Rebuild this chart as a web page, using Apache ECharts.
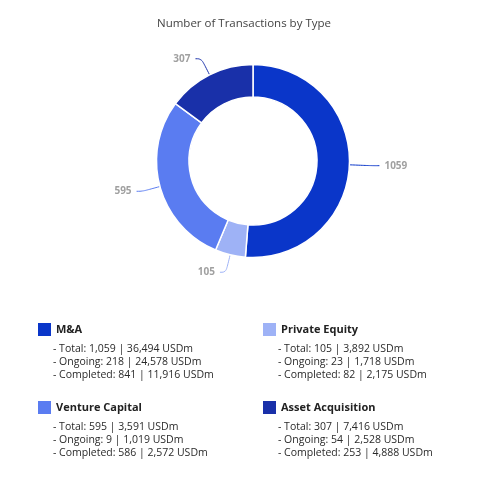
<!DOCTYPE html>
<html><head><meta charset="utf-8">
<script src="https://cdn.jsdelivr.net/npm/echarts@6/dist/echarts.min.js"></script>
<style>html,body{margin:0;padding:0;background:#fff}#c{width:488px;height:478px}</style>
</head><body><div id="c"></div>
<script>
const categories = ['M&A', 'Private Equity', 'Venture Capital', 'Asset Acquisition'];
const totals = [1059, 105, 595, 307];
const totalValue = [36494, 3892, 3591, 7416];
const ongoingCount = [218, 23, 9, 54];
const ongoingValue = [24578, 1718, 1019, 2528];
const completedCount = [841, 82, 586, 253];
const completedValue = [11916, 2175, 2572, 4888];
const colors = ['#0a36c9', '#9eb2f6', '#5a7cf1', '#1930a9'];

const fmt = n => n.toLocaleString('en-US');
const font = '"Open Sans", "Noto Sans", sans-serif';
const slots = [[38, 323], [263, 323], [38, 401], [263, 401]];
const order = [0, 1, 2, 3];

const legends = order.map((i, k) => ({
  data: [categories[i]],
  left: slots[k][0], top: slots[k][1], padding: 0,
  icon: 'rect', itemWidth: 13, itemHeight: 13, itemGap: 5,
  selectedMode: false,
  itemStyle: { borderWidth: 0 },
  textStyle: { fontFamily: font, fontSize: 11, fontWeight: 'bold', color: '#222' }
}));

const graphics = order.map((i, k) => ({
  type: 'text',
  left: slots[k][0] + 15, top: slots[k][1] + 20,
  style: {
    text: ['- Total: ' + fmt(totals[i]) + ' | ' + fmt(totalValue[i]) + ' USDm',
           '- Ongoing: ' + fmt(ongoingCount[i]) + ' | ' + fmt(ongoingValue[i]) + ' USDm',
           '- Completed: ' + fmt(completedCount[i]) + ' | ' + fmt(completedValue[i]) + ' USDm'].join('\n'),
    font: '10.5px ' + font, fill: '#2a2a2a', lineHeight: 12.8
  }
}));

const chart = echarts.init(document.getElementById('c'));
chart.setOption({
  animation: false,
  title: { text: 'Number of Transactions by Type', left: 'center', top: 13,
    textStyle: { fontFamily: font, fontSize: 11.5, fontWeight: 'normal', color: '#444' } },
  color: colors,
  legend: legends,
  graphic: graphics,
  series: [{
    type: 'pie',
    center: [253, 161],
    radius: [64, 96.5],
    startAngle: 90,
    clockwise: true,
    itemStyle: { borderColor: '#fff', borderWidth: 1.5 },
    label: { show: true, formatter: '{c}', color: '#a0a0a0', fontFamily: font, fontSize: 10, fontWeight: 'bold', distanceToLabelLine: 5 },
    labelLine: { show: true, length: 18, length2: 6, smooth: 0.4, lineStyle: { width: 1 } },
    emphasis: { disabled: true },
    data: categories.map((c, i) => i === 0
      ? { name: c, value: totals[i], labelLine: { length: 22, length2: 8 } }
      : { name: c, value: totals[i] })
  }]
});
</script></body></html>
